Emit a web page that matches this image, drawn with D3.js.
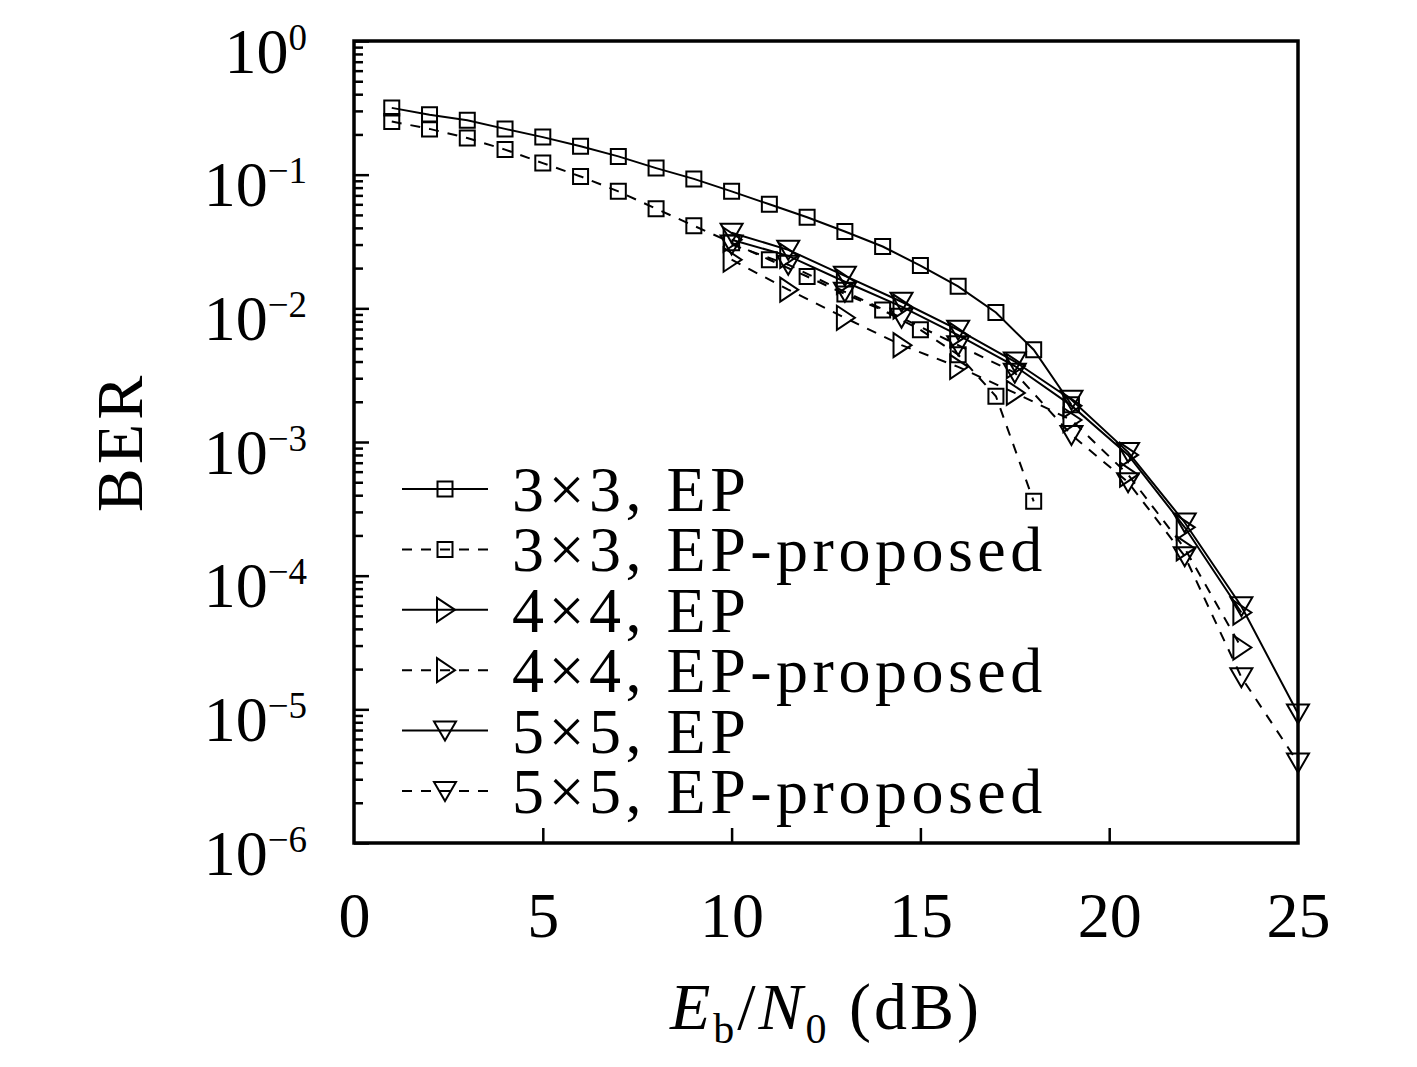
<!DOCTYPE html>
<html lang="en">
<head>
<meta charset="UTF-8">
<title>BER vs Eb/N0</title>
<script src="https://d3js.org/d3.v7.min.js"></script>
<style>
    body { margin: 0; background: #fff; }
    text { font-family: "Liberation Serif", "DejaVu Serif", serif; fill: #000; }
    .line { fill: none; stroke: #000; stroke-width: 2px; }
    .dashed { stroke-dasharray: 10, 9; }
    .marker { fill: none; stroke: #000; stroke-width: 2px; }
</style>
</head>
<body>
<svg id="chart"></svg>
<script>
// data
var snr3 = [1, 2, 3, 4, 5, 6, 7, 8, 9, 10, 11, 12, 13, 14, 15, 16, 17, 18, 19];
var ber3EP = [0.316, 0.281, 0.255, 0.22, 0.191, 0.163, 0.137, 0.112, 0.093, 0.075,
    0.060, 0.048, 0.0376, 0.029, 0.0209, 0.0146, 0.0093, 0.0049, 0.0019];
var snr3P = [1, 2, 3, 4, 5, 6, 7, 8, 9, 10, 11, 12, 13, 14, 15, 16, 17, 18];
var ber3P = [0.25, 0.22, 0.188, 0.154, 0.122, 0.097, 0.075, 0.0556, 0.0415, 0.031,
    0.0231, 0.0173, 0.0128, 0.0097, 0.0069, 0.0045, 0.0022, 0.00036];

var snr4 = [10, 11.5, 13, 14.5, 16, 17.5, 19, 20.5, 22, 23.5];
var ber4EP = [0.0326, 0.0247, 0.0158, 0.0103, 0.0063, 0.0037, 0.00187, 0.0008, 0.00023, 0.000053];
var ber4P = [0.0231, 0.0138, 0.0085, 0.0053, 0.00365, 0.00233, 0.00146, 0.00057, 0.00016, 0.000029];

var snr5 = [10, 11.5, 13, 14.5, 16, 17.5, 19, 20.5, 22, 23.5, 25];
var ber5EP = [0.0368, 0.0274, 0.0175, 0.0112, 0.0069, 0.0040, 0.00207, 0.00084, 0.00025, 0.000059, 0.0000093];
var ber5P = [0.030, 0.0212, 0.0133, 0.0085, 0.0053, 0.0033, 0.00113, 0.0005, 0.00014, 0.0000174, 0.000004];

var xTicks = [0, 5, 10, 15, 20, 25];
var yDecades = [1, 1e-1, 1e-2, 1e-3, 1e-4, 1e-5, 1e-6];
var legendLabels = ["3\u00d73, EP", "3\u00d73, EP-proposed", "4\u00d74, EP",
    "4\u00d74, EP-proposed", "5\u00d75, EP", "5\u00d75, EP-proposed"];

var series = [
    { x: snr3, y: ber3EP, marker: "square", dash: false },
    { x: snr3P, y: ber3P, marker: "square", dash: true },
    { x: snr4, y: ber4EP, marker: "right", dash: false },
    { x: snr4, y: ber4P, marker: "right", dash: true },
    { x: snr5, y: ber5EP, marker: "down", dash: false },
    { x: snr5, y: ber5P, marker: "down", dash: true }
];

var W = 1417, H = 1067;
var margin = { top: 41, right: 119, bottom: 224, left: 354 };
var width = W - margin.left - margin.right,
    height = H - margin.top - margin.bottom;

var svg = d3.select("#chart")
    .attr("width", W)
    .attr("height", H)
    .append("g")
    .attr("transform", "translate(" + margin.left + "," + margin.top + ")");

var x = d3.scaleLinear().domain([0, 25]).range([0, width]);
var y = d3.scaleLog().domain([1e-6, 1]).range([height, 0]);

// marker shapes (drawn around 0,0)
function markerPath(type) {
    if (type == "square") return "M-7.5,-7.5H7.5V7.5H-7.5Z";
    if (type == "right") return "M-8,-12L10,0L-8,12Z";
    return "M-11,-9L11,-9L0,10Z";
}

// minor y ticks
var minor = [];
for (var e = -6; e < 0; e++) {
    for (var k = 2; k <= 9; k++) minor.push(k * Math.pow(10, e));
}
svg.append("g")
    .call(d3.axisLeft(y).tickValues(minor).tickSizeInner(-9).tickSizeOuter(0).tickFormat(""))
    .call(function(g) { g.select(".domain").remove(); })
    .selectAll("line").attr("stroke-width", 2.5);

// major y ticks with 10^n labels
var yAxis = svg.append("g")
    .call(d3.axisLeft(y).tickValues(yDecades).tickSizeInner(-15).tickSizeOuter(0).tickPadding(47).tickFormat(""))
    .call(function(g) { g.select(".domain").remove(); });
yAxis.selectAll("line").attr("stroke-width", 2.5);
yAxis.selectAll(".tick text")
    .attr("font-size", 64)
    .attr("font-family", null)
    .attr("dy", 31)
    .each(function(d) {
        var t = d3.select(this);
        var p = Math.round(Math.log10(d));
        t.append("tspan").text("10");
        t.append("tspan").attr("font-size", 37).attr("dy", -23)
            .text(p == 0 ? "0" : "\u2212" + (-p));
    });

// x axis
var xAxis = svg.append("g")
    .attr("transform", "translate(0," + height + ")")
    .call(d3.axisBottom(x).tickValues(xTicks).tickSizeInner(-15).tickSizeOuter(0).tickPadding(49))
    .call(function(g) { g.select(".domain").remove(); });
xAxis.selectAll("line").attr("stroke-width", 2.5)
    .filter(function(d) { return d == 0 || d == 25; }).remove();
xAxis.selectAll("text").attr("font-size", 64).attr("font-family", null);

// frame
svg.append("rect")
    .attr("width", width)
    .attr("height", height)
    .attr("fill", "none")
    .attr("stroke", "#000")
    .attr("stroke-width", 3.5);

// curves
var line = d3.line()
    .x(function(d) { return x(d[0]); })
    .y(function(d) { return y(d[1]); });

series.forEach(function(s) {
    var pts = s.x.map(function(v, i) { return [v, s.y[i]]; });
    svg.append("path")
        .attr("class", s.dash ? "line dashed" : "line")
        .attr("d", line(pts));
    svg.selectAll(null)
        .data(pts)
        .enter().append("path")
        .attr("class", "marker")
        .attr("transform", function(d) { return "translate(" + x(d[0]) + "," + y(d[1]) + ")"; })
        .attr("d", markerPath(s.marker));
});

// legend
var legend = svg.append("g").attr("transform", "translate(48,448)");
var rowH = 60.4;
series.forEach(function(s, i) {
    var row = legend.append("g").attr("transform", "translate(0," + i * rowH + ")");
    row.append("line")
        .attr("class", s.dash ? "line dashed" : "line")
        .attr("x1", 0).attr("x2", 86).attr("y1", 0).attr("y2", 0);
    row.append("path")
        .attr("class", "marker")
        .attr("transform", "translate(43,0)")
        .attr("d", markerPath(s.marker));
    row.append("text")
        .attr("x", 110)
        .attr("dy", 22)
        .attr("font-size", 64)
        .attr("letter-spacing", 4.5)
        .text(legendLabels[i]);
});

// axis titles
svg.append("text")
    .attr("transform", "translate(" + (-234) + "," + (height / 2) + ") rotate(-90)")
    .attr("text-anchor", "middle")
    .attr("dy", 22)
    .attr("font-size", 66)
    .attr("letter-spacing", 4)
    .text("BER");

var xt = svg.append("text")
    .attr("x", width / 2)
    .attr("y", height + 186)
    .attr("text-anchor", "middle")
    .attr("font-size", 66)
    .attr("letter-spacing", 3);
xt.append("tspan").attr("font-style", "italic").text("E");
xt.append("tspan").attr("font-size", 42).attr("dy", 14).text("b");
xt.append("tspan").attr("dy", -14).text("/");
xt.append("tspan").attr("font-style", "italic").text("N");
xt.append("tspan").attr("font-size", 42).attr("dy", 14).text("0");
xt.append("tspan").attr("dy", -14).text(" (dB)");
</script>
</body>
</html>
